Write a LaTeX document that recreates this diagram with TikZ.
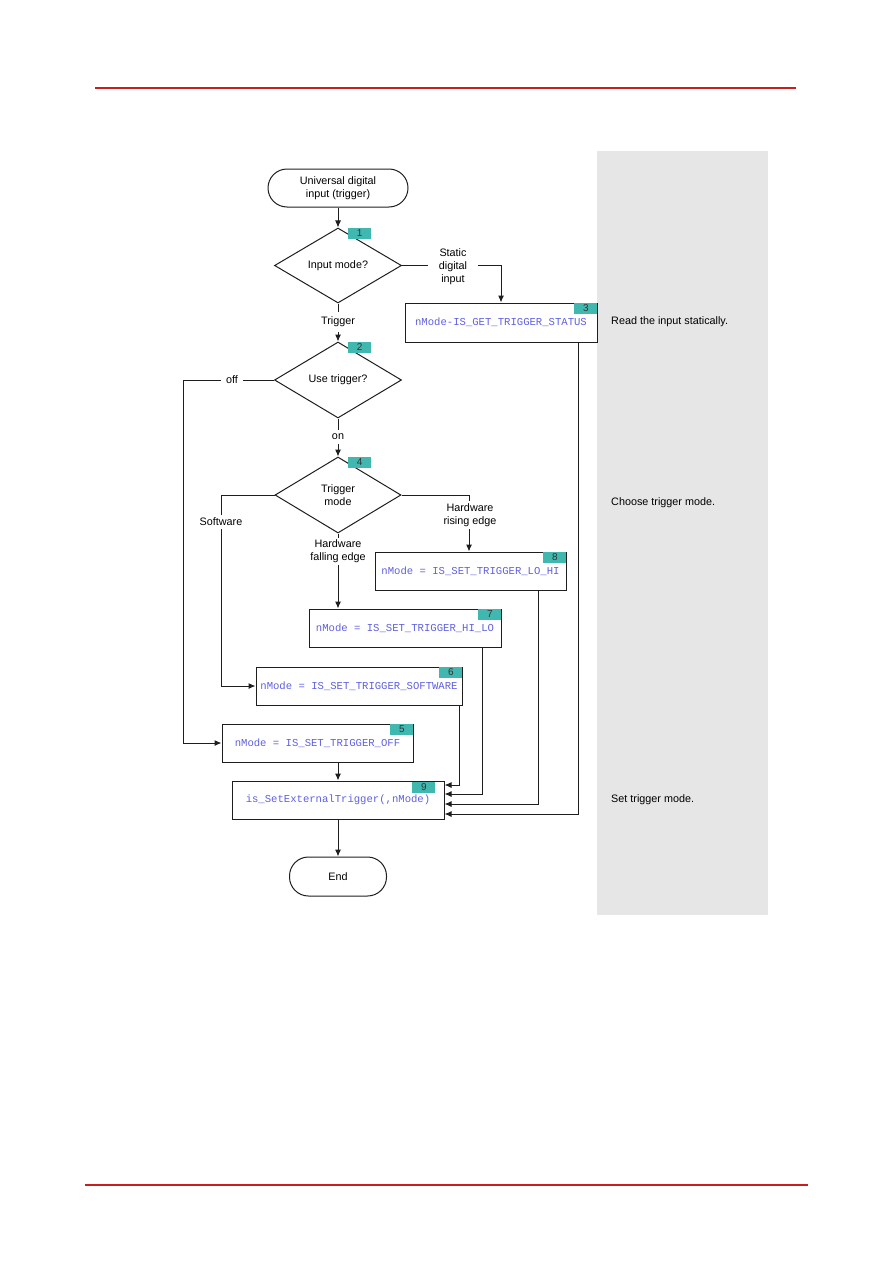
\documentclass[tikz,border=0pt]{standalone}
\usepackage{fontspec}
\setmainfont{Liberation Sans}
\newfontfamily\codefont{Liberation Mono}
\usetikzlibrary{shapes.geometric,arrows.meta}
\definecolor{tealnum}{RGB}{64,184,176}
\definecolor{codeblue}{RGB}{95,95,225}
\definecolor{panelgray}{RGB}{230,230,230}
\definecolor{rulered}{RGB}{200,30,30}
\definecolor{linegray}{RGB}{30,30,30}
\newcommand{\txtfont}{\fontsize{10.8}{13}\selectfont}
\newcommand{\codetxt}{\codefont\fontsize{10.6}{12}\selectfont}
\newcommand{\numtxt}{\fontsize{10}{11}\selectfont}
\begin{document}
\begin{tikzpicture}[x=1pt,y=-1pt,
  term/.style={draw=linegray, line width=1pt, rounded corners=19pt, minimum height=38pt, align=center, font=\txtfont, inner sep=0pt},
  dec/.style={diamond, draw=linegray, line width=1pt, minimum width=127pt, minimum height=75pt, inner sep=0pt, align=center, font=\txtfont},
  proc/.style={draw=linegray, line width=1pt, rectangle, minimum height=38pt, inner sep=0pt, font=\codetxt, text=codeblue},
  num/.style={fill=tealnum, minimum width=23pt, minimum height=11pt, inner sep=0pt, font=\numtxt, text=black!80},
  lbl/.style={fill=white, align=center, font=\txtfont, inner sep=0pt},
  note/.style={anchor=west, font=\txtfont, inner sep=0pt},
  conn/.style={draw=linegray, line width=1pt},
  arr/.style={conn, -{Latex[length=7pt,width=6pt]}}
]
\useasboundingbox (0,0) rectangle (893,1263);
% page rules
\draw[rulered, line width=1.4pt] (95,88) -- (796,88);
\draw[rulered, line width=1.4pt] (85,1185) -- (808,1185);
% gray panel
\fill[panelgray] (597,151) rectangle (768,915);

% nodes
\node[term, minimum width=140pt] (start) at (338,188) {Universal digital\\input (trigger)};
\node[dec] (d1) at (338,265.5) {Input mode?};
\node[proc, minimum width=192pt, minimum height=39pt] (b3) at (501,322.5) {nMode-IS\_GET\_TRIGGER\_STATUS};
\node[dec, minimum height=76pt] (d2) at (338,380) {Use trigger?};
\node[dec, minimum height=76pt, minimum width=126pt] (d4) at (338,495) {Trigger\\mode};
\node[proc, minimum width=191pt] (b8) at (470.5,571) {nMode = IS\_SET\_TRIGGER\_LO\_HI};
\node[proc, minimum width=192pt] (b7) at (405,628) {nMode = IS\_SET\_TRIGGER\_HI\_LO};
\node[proc, minimum width=206pt] (b6) at (359,686) {nMode = IS\_SET\_TRIGGER\_SOFTWARE};
\node[proc, minimum width=191pt] (b5) at (317.5,743) {nMode = IS\_SET\_TRIGGER\_OFF};
\node[proc, minimum width=212pt] (b9) at (338,800) {is\_SetExternalTrigger(,nMode)};
\node[term, minimum width=97pt, minimum height=39pt] (end) at (338,876.5) {End};

% number tags
\node[num, anchor=north west] (n1) at ([xshift=10pt]d1.north) {1};
\node[num, anchor=north west] (n2) at ([xshift=10pt]d2.north) {2};
\node[num, anchor=north west] (n4) at ([xshift=10pt]d4.north) {4};
\node[num, anchor=north east] (n3) at (b3.north east) {3};
\node[num, anchor=north east] (n8) at (b8.north east) {8};
\node[num, anchor=north east] (n7) at (b7.north east) {7};
\node[num, anchor=north east] (n6) at (b6.north east) {6};
\node[num, anchor=north east] (n5) at (b5.north east) {5};
\node[num, anchor=north east] (n9) at ([xshift=-9pt,yshift=-1pt]b9.north east) {9};

% connectors
\coordinate (offc) at (183,380);
\draw[arr] (start) -- (d1);
\draw[arr] (d1.east) -| (b3.north);
\draw[arr] (d1.south) -- (d2.north);
\draw[arr] (d2.south) -- (d4.north);
\draw[arr] (d2.west) -- (offc) |- (b5.west);
\draw[arr] (d4.west) -- ([xshift=-53pt]d4.west) |- (b6.west);
\draw[arr] (d4.east) -| ([xshift=-1.5pt]b8.north);
\draw[arr] (d4.south) -- (d4.south |- b7.north);
\draw[arr] (b9.north |- b5.south) -- (b9.north);
\draw[arr] ([xshift=-3pt]b6.south east) |- ([yshift=15pt]b9.east);
\draw[arr] ([xshift=-19pt]b7.south east) |- ([yshift=6pt]b9.east);
\draw[arr] ([xshift=-28pt]b8.south east) |- ([yshift=-4pt]b9.east);
\draw[arr] ([xshift=-19pt]b3.south east) |- ([yshift=-14pt]b9.east);
\draw[arr] (b9.south) -- (end.north);

% branch labels
\node[lbl, inner xsep=11pt] (lstatic) at (453,267) {Static\\digital\\input};
\node[lbl, inner ysep=5pt, inner xsep=2pt] (ltrig) at (338,322) {Trigger};
\node[lbl, inner xsep=5pt, inner ysep=2pt] (loff) at (232,380) {off};
\node[lbl, inner ysep=4pt, inner xsep=2pt] (lon) at (338,437) {on};
\node[lbl, inner ysep=3pt, inner xsep=2pt] (lsw) at (221,522) {Software};
\node[lbl, inner ysep=2pt, inner xsep=2pt] (lrise) at (470,515) {Hardware\\rising edge};
\node[lbl, inner ysep=2pt, inner xsep=2pt] (lfall) at (338,551.5) {Hardware\\falling edge};

% notes
\node[note] (t1) at (611,322) {Read the input statically.};
\node[note] (t2) at (611,503) {Choose trigger mode.};
\node[note] (t3) at (611,800) {Set trigger mode.};
\end{tikzpicture}
\end{document}
